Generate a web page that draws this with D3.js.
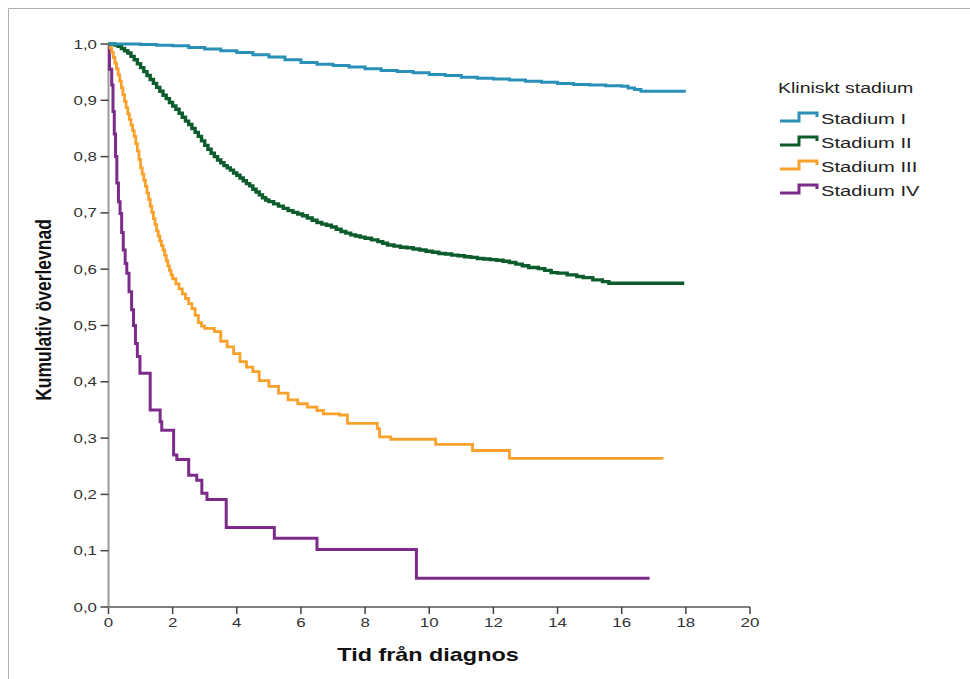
<!DOCTYPE html>
<html lang="sv">
<head>
<meta charset="UTF-8">
<title>Kumulativ överlevnad</title>
<script src="https://d3js.org/d3.v7.min.js"></script>
<style>
  body { margin: 0; background: #fff; }
  svg { display: block; }
  text { font-family: "Liberation Sans", Arial, sans-serif; }
</style>
</head>
<body>
<script>
// Kaplan-Meier estimates: [years, cumulative survival]
const stadiumI = [[0,1],[0.5,1],[1,0.999],[1.5,0.998],[2,0.997],[2.5,0.994],[3,0.991],[3.5,0.988],[4,0.985],[4.5,0.981],[5,0.977],[5.5,0.972],[6,0.967],[6.5,0.964],[7,0.962],[7.5,0.959],[8,0.956],[8.5,0.953],[9,0.951],[9.5,0.949],[10,0.946],[10.5,0.944],[11,0.941],[11.5,0.939],[12,0.938],[12.5,0.936],[13,0.934],[13.5,0.932],[14,0.930],[14.5,0.928],[15,0.927],[15.5,0.926],[16,0.925],[16.2,0.922],[16.4,0.919],[16.6,0.916],[18,0.916]];
const stadiumII = [[0,1],[0.1,1],[0.2,0.998],[0.3,0.996],[0.4,0.992],[0.5,0.988],[0.6,0.984],[0.7,0.978],[0.8,0.972],[0.9,0.965],[1,0.958],[1.1,0.951],[1.2,0.944],[1.3,0.937],[1.4,0.930],[1.5,0.923],[1.6,0.916],[1.7,0.909],[1.8,0.903],[1.9,0.896],[2,0.890],[2.1,0.884],[2.2,0.877],[2.3,0.870],[2.4,0.863],[2.5,0.857],[2.6,0.850],[2.7,0.843],[2.8,0.836],[2.9,0.828],[3,0.820],[3.1,0.813],[3.2,0.806],[3.3,0.800],[3.4,0.794],[3.5,0.789],[3.6,0.784],[3.7,0.780],[3.8,0.776],[3.9,0.771],[4,0.767],[4.1,0.762],[4.2,0.757],[4.3,0.752],[4.4,0.748],[4.5,0.742],[4.6,0.737],[4.7,0.732],[4.8,0.727],[4.9,0.723],[5,0.720],[5.15,0.716],[5.3,0.712],[5.45,0.708],[5.6,0.704],[5.75,0.701],[5.9,0.698],[6.05,0.695],[6.2,0.691],[6.35,0.687],[6.5,0.683],[6.65,0.680],[6.8,0.678],[6.95,0.675],[7.1,0.671],[7.25,0.667],[7.4,0.664],[7.55,0.661],[7.7,0.659],[7.85,0.657],[8,0.655],[8.2,0.652],[8.4,0.649],[8.55,0.646],[8.7,0.643],[8.9,0.641],[9.1,0.639],[9.3,0.638],[9.5,0.636],[9.7,0.634],[9.9,0.632],[10.1,0.630],[10.3,0.628],[10.5,0.627],[10.7,0.625],[10.9,0.624],[11.1,0.622],[11.3,0.621],[11.5,0.619],[11.7,0.618],[11.9,0.617],[12.1,0.616],[12.3,0.614],[12.5,0.612],[12.7,0.609],[12.9,0.606],[13.1,0.603],[13.4,0.601],[13.6,0.598],[13.8,0.594],[14,0.593],[14.3,0.590],[14.6,0.587],[14.8,0.585],[15.1,0.581],[15.4,0.578],[15.6,0.575],[17.95,0.575]];
const stadiumIII = [[0,1],[0.05,0.993],[0.1,0.985],[0.15,0.976],[0.2,0.966],[0.25,0.956],[0.3,0.945],[0.35,0.934],[0.4,0.922],[0.45,0.910],[0.5,0.898],[0.55,0.887],[0.6,0.876],[0.65,0.866],[0.7,0.856],[0.75,0.846],[0.8,0.836],[0.85,0.823],[0.9,0.810],[0.95,0.795],[1,0.780],[1.05,0.769],[1.1,0.758],[1.15,0.747],[1.2,0.735],[1.25,0.724],[1.3,0.712],[1.35,0.701],[1.4,0.690],[1.45,0.679],[1.5,0.668],[1.55,0.659],[1.6,0.650],[1.65,0.642],[1.7,0.634],[1.75,0.625],[1.8,0.615],[1.85,0.606],[1.9,0.598],[1.95,0.590],[2,0.583],[2.1,0.574],[2.2,0.565],[2.3,0.556],[2.4,0.548],[2.5,0.539],[2.6,0.530],[2.7,0.518],[2.8,0.505],[2.9,0.499],[3,0.495],[3.3,0.489],[3.5,0.472],[3.7,0.462],[3.9,0.450],[4.1,0.436],[4.3,0.426],[4.5,0.418],[4.7,0.402],[5,0.392],[5.3,0.380],[5.6,0.368],[5.9,0.361],[6.2,0.355],[6.5,0.349],[6.7,0.343],[7.2,0.341],[7.45,0.326],[8.2,0.326],[8.38,0.317],[8.45,0.302],[8.8,0.298],[10.2,0.289],[11.35,0.278],[12.5,0.264],[17.3,0.264]];
const stadiumIV = [[0,1],[0.03,0.955],[0.1,0.927],[0.14,0.88],[0.18,0.84],[0.22,0.8],[0.26,0.753],[0.31,0.72],[0.36,0.699],[0.41,0.665],[0.46,0.634],[0.52,0.61],[0.57,0.593],[0.64,0.56],[0.72,0.528],[0.78,0.5],[0.84,0.468],[0.9,0.445],[0.98,0.415],[1.3,0.35],[1.61,0.329],[1.66,0.314],[2.03,0.27],[2.13,0.262],[2.5,0.234],[2.75,0.225],[2.91,0.202],[3.07,0.191],[3.67,0.141],[5.17,0.122],[6.5,0.102],[9.6,0.051],[16.87,0.051]];

const seriesNames = ["Stadium I", "Stadium II", "Stadium III", "Stadium IV"];
const seriesColors = ["#2b90b8", "#0d5c2c", "#f9a12b", "#7d2b8b"];
const xTicks = [0, 2, 4, 6, 8, 10, 12, 14, 16, 18, 20];
const yTicks = [0, 0.1, 0.2, 0.3, 0.4, 0.5, 0.6, 0.7, 0.8, 0.9, 1.0];

const W = 970, H = 679;
const stretch = 1.3; // the picture is a little wider than tall

const svg = d3.select("body").append("svg")
  .attr("width", W).attr("height", H);

// thin frame of the exported chart
svg.append("path")
  .attr("d", "M8.5,679V8.5H970")
  .attr("fill", "none").attr("stroke", "#b0b0b0").attr("stroke-width", 1);

const x = d3.scaleLinear().domain([0, 20]).range([108.5, 750]);
const y = d3.scaleLinear().domain([0, 1]).range([607, 44]);

// text drawn with the horizontal stretch
function stext(g, px, py, str, anchor, rot) {
  return g.append("text")
    .attr("transform", `translate(${px},${py}) scale(${stretch},1)` + (rot ? ` rotate(${rot})` : ""))
    .attr("text-anchor", anchor)
    .text(str);
}

// x axis
const xAxis = svg.append("g");
xAxis.append("line")
  .attr("x1", x(0)).attr("x2", x(20)).attr("y1", y(0)).attr("y2", y(0))
  .attr("stroke", "#555").attr("stroke-width", 1.5);
xAxis.selectAll(".xt").data(xTicks).enter().append("line")
  .attr("x1", d => x(d)).attr("x2", d => x(d))
  .attr("y1", y(0)).attr("y2", y(0) + 7)
  .attr("stroke", "#444").attr("stroke-width", 1.5);
xTicks.forEach(d => {
  stext(xAxis, x(d), 627, d, "middle")
    .attr("font-size", 13).attr("fill", "#333");
});

// y axis
const yAxis = svg.append("g");
yAxis.append("line")
  .attr("x1", x(0)).attr("x2", x(0)).attr("y1", y(0) + 1).attr("y2", y(1))
  .attr("stroke", "#9a9a9a").attr("stroke-width", 2);
yAxis.selectAll(".yt").data(yTicks).enter().append("line")
  .attr("x1", x(0) - 8).attr("x2", x(0))
  .attr("y1", d => y(d)).attr("y2", d => y(d))
  .attr("stroke", "#444").attr("stroke-width", 1.5);
yTicks.forEach(d => {
  stext(yAxis, 97, y(d) + 4.5, d.toFixed(1).replace(".", ","), "end")
    .attr("font-size", 13).attr("fill", "#333");
});

// axis titles
stext(svg, 428, 661, "Tid från diagnos", "middle")
  .attr("font-size", 18).attr("font-weight", "bold").attr("fill", "#111");
stext(svg, 50.5, 310, "Kumulativ överlevnad", "middle", -90)
  .attr("font-size", 17.5).attr("font-weight", "bold").attr("fill", "#111");

// survival curves
const line = d3.line()
  .x(d => x(d[0]))
  .y(d => y(d[1]))
  .curve(d3.curveStepAfter);

const allSeries = [stadiumI, stadiumII, stadiumIII, stadiumIV];
const widths = [3, 3.4, 2.8, 3];
svg.append("g").selectAll("path")
  .data(allSeries.map((s, i) => ({ s, i })).reverse())
  .enter().append("path")
  .attr("d", d => line(d.s))
  .attr("fill", "none")
  .attr("stroke", d => seriesColors[d.i])
  .attr("stroke-width", d => widths[d.i])
  .attr("stroke-linejoin", "miter");

// legend
const legend = svg.append("g");
stext(legend, 778, 93, "Kliniskt stadium", "start")
  .attr("font-size", 15).attr("fill", "#222");
seriesNames.forEach((name, i) => {
  const cy = 118 + i * 24;
  legend.append("path")
    .attr("d", `M780,${cy + 3}H799V${cy - 5}H817V${cy - 1}`)
    .attr("fill", "none")
    .attr("stroke", seriesColors[i])
    .attr("stroke-width", 3);
  stext(legend, 821, cy + 6, name, "start")
    .attr("font-size", 15.5).attr("fill", "#222");
});
</script>
</body>
</html>
